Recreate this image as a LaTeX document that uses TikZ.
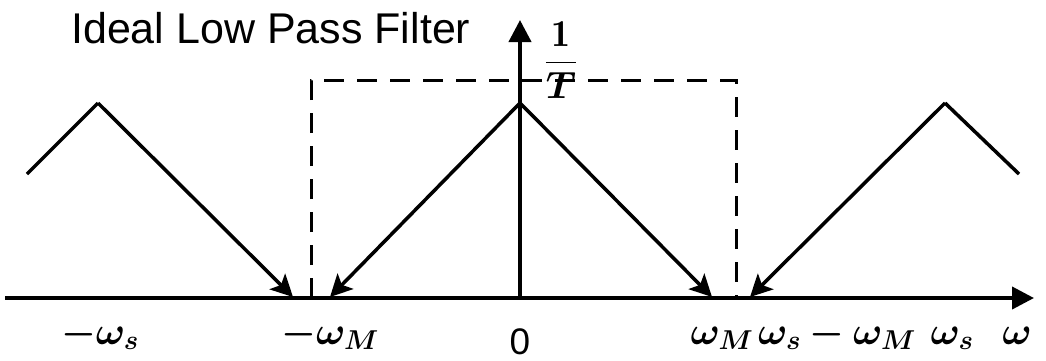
\RequirePackage{fix-cm}
\documentclass[tikz,border=0pt]{standalone}
\usepackage{amsmath,bm}
\usepackage{graphicx}
\usepackage{fontspec}
\setsansfont{Liberation Sans}
\usetikzlibrary{arrows.meta}
\tikzset{
  axisline/.style={line width=4pt,-{Triangle[length=22pt,width=22pt]}},
  spec/.style={line width=3.5pt},
  specarrow/.style={line width=3.5pt,-{Stealth[length=22pt,width=22pt,inset=5pt]}},
  filterbox/.style={line width=3pt,dash pattern=on 20pt off 13pt},
  lab/.style={anchor=base,inner sep=0pt,font=\fontsize{39}{42}\selectfont},
  ttl/.style={anchor=base west,inner sep=0pt,font=\sffamily\fontsize{43}{46}\selectfont},
}
\begin{document}
\begin{tikzpicture}[x=1pt,y=-1pt]
\useasboundingbox (0,0) rectangle (1046,360);
% axes
\coordinate (o) at (520,298);
\coordinate (xs) at (5,298);
\coordinate (xe) at (1034,298);
\coordinate (ye) at (520,20);
\draw[axisline] (xs) -- (xe);
\draw[axisline] (o) -- (ye);
% ideal filter
\coordinate (f1) at (311,298);
\coordinate (f2) at (311,80);
\coordinate (f3) at (736,80);
\coordinate (f4) at (736,298);
\draw[filterbox] (f1) -- (f2) -- (f3) -- (f4);
% spectra
\coordinate (c0) at (520,103);
\coordinate (cL) at (330,297);
\coordinate (cR) at (712,297);
\draw[specarrow] (c0) -- (cL);
\draw[specarrow] (c0) -- (cR);
\coordinate (l0) at (98,103);
\coordinate (lA) at (27,174);
\coordinate (lB) at (293,297);
\draw[spec] (lA) -- (l0);
\draw[specarrow] (l0) -- (lB);
\coordinate (r0) at (945,103);
\coordinate (rA) at (1019,174);
\coordinate (rB) at (750,297);
\draw[spec] (rA) -- (r0);
\draw[specarrow] (r0) -- (rB);
% labels
\node[ttl] (title) at (71,43) {Ideal Low Pass Filter};
\node[inner sep=0pt,font=\fontsize{38}{42}\selectfont] (amp) at (561,60) {$\dfrac{\mathbf{1}}{\bm{T}}$};
\node[lab] (lws) at (100,344) {$\bm{-\omega_s}$};
\node[lab] (lwM) at (330,344) {$\bm{-\omega_M}$};
\node[ttl,anchor=base] (zero) at (520,354) {\scalebox{0.86}{0}};
\node[lab] (lM) at (722,344) {$\bm{\omega_M}$};
\node[lab] (lsM) at (837,344) {$\bm{\omega_s-\omega_M}$};
\node[lab] (ls) at (952,344) {$\bm{\omega_s}$};
\node[lab] (lw) at (1017,344) {$\bm{\omega}$};
\end{tikzpicture}
\end{document}
